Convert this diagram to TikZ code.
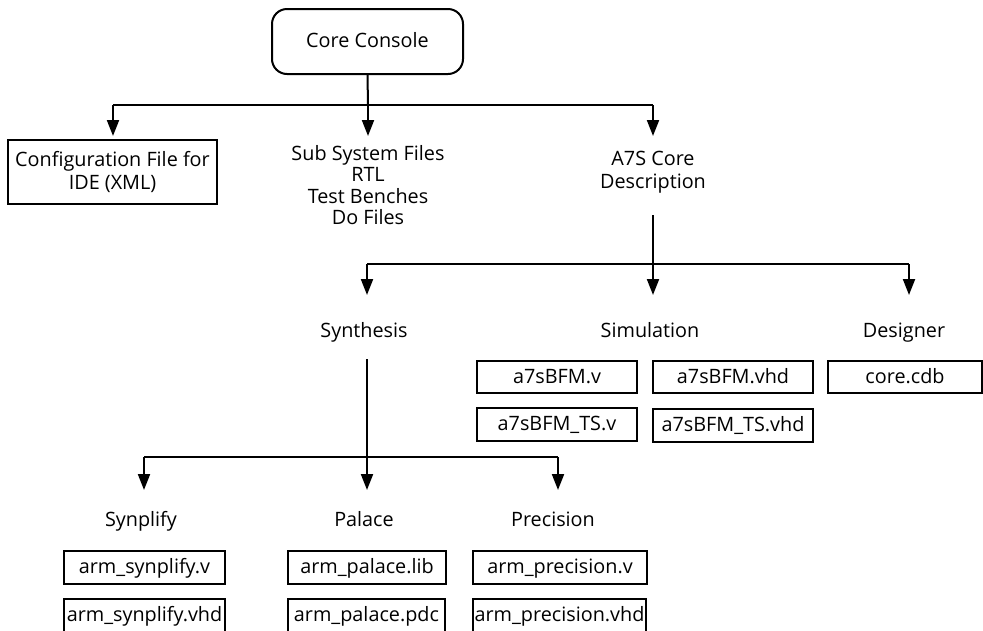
\documentclass[tikz,border=0pt]{standalone}
\usepackage{fontspec}
\setmainfont{Open Sans}
\usetikzlibrary{arrows.meta}
\begin{document}
\begin{tikzpicture}[x=1pt,y=-1pt,
  line width=2pt,
  every node/.style={font=\fontsize{19.8}{23}\selectfont, inner sep=0pt},
  fbox/.style={draw, line width=2pt, minimum height=33pt, anchor=center, text height=15pt, text depth=3pt},
  lbl/.style={align=center},
  caption/.style={anchor=base},
  arr/.style={-{Triangle[width=12pt,length=16pt]}},
  ]
\useasboundingbox (0,0) rectangle (983,630);
% top level
\node[draw, rounded corners=15pt, minimum width=191pt, minimum height=65pt, text height=15pt, text depth=3pt] (console) at (367.5,41.5) {Core Console};
\node[draw, minimum width=209pt, minimum height=64pt, align=center] (config) at (112.5,172) {Configuration File for\\IDE (XML)};
\node[lbl, font=\fontsize{19.8}{21.3}\selectfont] (subsys) at (368,185) {Sub System Files\\RTL\\Test Benches\\Do Files};
\node[lbl] (a7s) at (653,172) {A7S Core\\Description};
\coordinate (j1) at (368,105);
\coordinate (b1L) at (113,105);
\coordinate (b1R) at (653,105);
\coordinate (t1a) at (113,136);
\coordinate (t1b) at (368,136);
\coordinate (t1c) at (653,136);
\draw (console.south) -- (j1);
\draw (b1L) -- (b1R);
\draw[arr] (b1L) -- (t1a);
\draw[arr] (j1) -- (t1b);
\draw[arr] (b1R) -- (t1c);
% second level
\coordinate (s2) at (653,215);
\coordinate (j2) at (653,264);
\coordinate (b2L) at (367,264);
\coordinate (b2R) at (909,264);
\coordinate (t2a) at (367,295);
\coordinate (t2b) at (653,295);
\coordinate (t2c) at (909,295);
\draw (s2) -- (j2);
\draw (b2L) -- (b2R);
\draw[arr] (b2L) -- (t2a);
\draw[arr] (j2) -- (t2b);
\draw[arr] (b2R) -- (t2c);
\node[caption] (synth) at (364,337) {Synthesis};
\node[caption] (simul) at (650,337) {Simulation};
\node[caption] (design) at (904,337) {Designer};
% simulation files
\node[fbox, minimum width=160pt, minimum height=32pt] (bfmv) at (557,377) {a7sBFM.v};
\node[fbox, minimum width=160pt, minimum height=32pt] (bfmvhd) at (733,377) {a7sBFM.vhd};
\node[fbox, minimum width=154pt, minimum height=32pt] (cdb) at (905,377) {core.cdb};
\node[fbox, minimum width=160pt] (bfmtsv) at (557,424.5) {a7sBFM\_TS.v};
\node[fbox, minimum width=160pt] (bfmtsvhd) at (733,425.5) {a7sBFM\_TS.vhd};
% third level
\coordinate (s3) at (367,359);
\coordinate (j3) at (367,457);
\coordinate (b3L) at (144,457);
\coordinate (b3R) at (558,457);
\coordinate (t3a) at (144,490);
\coordinate (t3b) at (367,490);
\coordinate (t3c) at (558,490);
\draw (s3) -- (j3);
\draw (b3L) -- (b3R);
\draw[arr] (b3L) -- (t3a);
\draw[arr] (j3) -- (t3b);
\draw[arr] (b3R) -- (t3c);
\node[caption] (synp) at (141,526) {Synplify};
\node[caption] (palace) at (364,526) {Palace};
\node[caption] (prec) at (553,526) {Precision};
% synthesis files
\node[fbox, minimum width=161pt] (synv) at (144.5,567.5) {arm\_synplify.v};
\node[fbox, minimum width=158pt] (pallib) at (367,567.5) {arm\_palace.lib};
\node[fbox, minimum width=174pt] (precv) at (560,567.5) {arm\_precision.v};
\node[fbox, minimum width=161pt] (synvhd) at (144.5,615.5) {arm\_synplify.vhd};
\node[fbox, minimum width=157pt] (palpdc) at (366.5,615.5) {arm\_palace.pdc};
\node[fbox, minimum width=173pt] (precvhd) at (559.5,615.5) {arm\_precision.vhd};
\end{tikzpicture}
\end{document}
